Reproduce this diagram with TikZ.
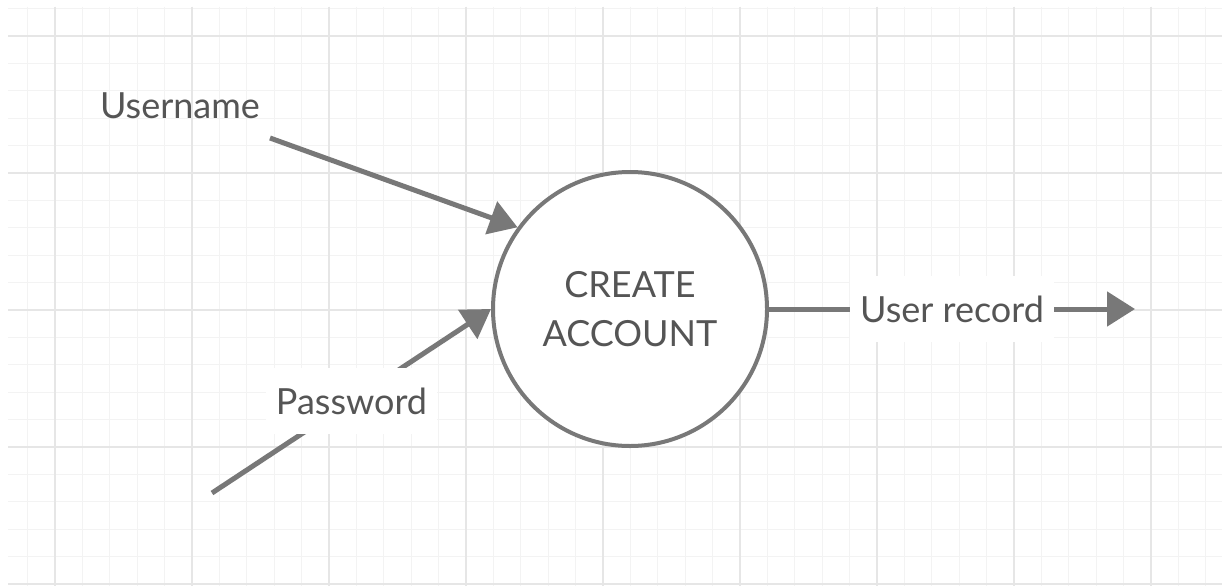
\documentclass[tikz,border=0pt]{standalone}
\usepackage{fontspec}
\setmainfont{Lato}
\usetikzlibrary{arrows.meta}
\definecolor{flowgray}{RGB}{120,120,120}
\definecolor{textgray}{RGB}{85,85,85}
\definecolor{gridminor}{RGB}{243,243,243}
\definecolor{gridmajor}{RGB}{230,230,230}

\begin{document}
\begin{tikzpicture}[x=1pt, y=-1pt,
        flow/.style={draw=flowgray, line width=5pt, -{Triangle[length=28pt, width=34pt]}},
        lbl/.style={text=textgray, font=\fontsize{36}{49}\selectfont},
        onflow/.style={lbl, fill=white, inner xsep=10pt, minimum height=66pt}]
        \useasboundingbox[fill=white] (0,0) rectangle (1222,586);

        % Grid
        \foreach \i in {-1,...,42}
            \draw[gridminor, line width=1pt] ({55+27.4*\i},7) -- ({55+27.4*\i},586);
        \foreach \j in {-1,...,20}
            \draw[gridminor, line width=1pt] (8,{36+27.4*\j}) -- (1222,{36+27.4*\j});
        \foreach \i in {0,...,8}
            \draw[gridmajor, line width=1.5pt] ({55+137*\i},7) -- ({55+137*\i},586);
        \foreach \j in {0,...,4}
            \draw[gridmajor, line width=1.5pt] (8,{36+137*\j}) -- (1222,{36+137*\j});

        % Process
        \node[lbl, circle, draw=flowgray, fill=white, line width=4pt, minimum size=274pt, align=center] (acct) at (630,309) {CREATE\\ACCOUNT};

        % Data flows
        \node[lbl] (user) at (180,106) {Username};
        \coordinate (userstart) at (270,138);
        \draw[flow] (userstart) -- (acct.144);

        \coordinate (passstart) at (212,493);
        \draw[flow] (passstart) -- node[onflow] (pass) {Password} (acct.west);

        \coordinate (recordend) at (1135,309);
        \draw[flow] (acct.east) -- node[onflow] (record) {User record} (recordend);
\end{tikzpicture}
\end{document}
